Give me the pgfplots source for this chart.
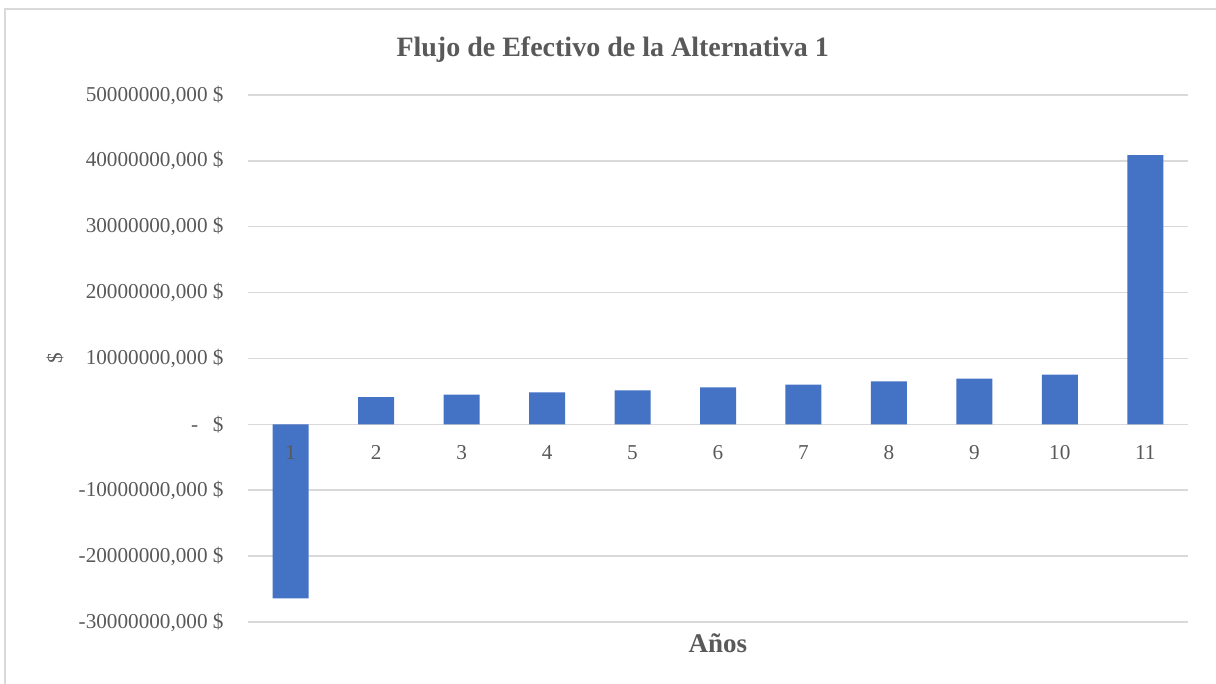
\documentclass[border=0pt]{standalone}
\usepackage{fontspec}
\setmainfont{Liberation Serif}
\usepackage{pgfplots}
\pgfplotsset{compat=1.18}
\definecolor{barblue}{HTML}{4472C4}
\definecolor{gridgray}{HTML}{D9D9D9}
\definecolor{txtgray}{HTML}{595959}
% grid below the bars, tick labels above them
\pgfplotsset{
    layers/labels over bars/.define layer set={
        axis background,axis grid,bars,axis ticks,axis lines,axis tick labels,main,axis descriptions,axis foreground
    }{},
}

\begin{document}
\begin{tikzpicture}
\begin{axis}[
    set layers=labels over bars,
    scale only axis,
    width=470pt, height=263.5pt,
    xmin=0.5, xmax=11.5,
    ymin=-30000000, ymax=50000000,
    axis line style={draw=none},
    major tick length=0pt,
    xtick={1,2,3,4,5,6,7,8,9,10,11},
    xticklabels={1,2,3,4,5,6,7,8,9,10,11},
    ytick={-30000000,-20000000,-10000000,0,10000000,20000000,30000000,40000000,50000000},
    yticklabels={{-30000000,000 \$},{-20000000,000 \$},{-10000000,000 \$},{-\hspace{0.7em}\$},
        {10000000,000 \$},{20000000,000 \$},{30000000,000 \$},{40000000,000 \$},{50000000,000 \$}},
    scaled y ticks=false,
    ticklabel style={font=\fontsize{10.6}{12}\selectfont, text=txtgray, inner sep=0pt},
    yticklabel style={anchor=east, xshift=-12pt},
    xticklabel style={anchor=center, yshift=84.5pt},
    title={Flujo de Efectivo de la Alternativa 1},
    title style={at={(rel axis cs:0.388,1)}, anchor=center, yshift=16.5pt,
        font=\bfseries\fontsize{14}{16}\selectfont, text=txtgray},
    xlabel={Años},
    every axis x label/.style={at={(rel axis cs:0.5,0)}, anchor=center, yshift=-10.5pt,
        font=\bfseries\fontsize{13.5}{15}\selectfont, text=txtgray},
    ylabel={\$},
    every axis y label/.style={at={(rel axis cs:0,0.5)}, rotate=90, anchor=center, yshift=96.5pt,
        font=\fontsize{10.6}{12}\selectfont, text=txtgray},
    ybar, bar width=18pt,
]
% horizontal gridlines every 10 000 000, under the bars
\begin{pgfonlayer}{axis background}
\draw[gridgray, line width=0.75pt]
    (rel axis cs:0,0) -- (rel axis cs:1,0)
    (rel axis cs:0,0.125) -- (rel axis cs:1,0.125)
    (rel axis cs:0,0.25) -- (rel axis cs:1,0.25)
    (rel axis cs:0,0.375) -- (rel axis cs:1,0.375)
    (rel axis cs:0,0.5) -- (rel axis cs:1,0.5)
    (rel axis cs:0,0.625) -- (rel axis cs:1,0.625)
    (rel axis cs:0,0.75) -- (rel axis cs:1,0.75)
    (rel axis cs:0,0.875) -- (rel axis cs:1,0.875)
    (rel axis cs:0,1) -- (rel axis cs:1,1);
\end{pgfonlayer}
\addplot[on layer=bars, fill=barblue, draw=none] coordinates {
    (1,-26400000)(2,4150000)(3,4510000)(4,4870000)(5,5170000)(6,5630000)
    (7,6040000)(8,6540000)(9,6950000)(10,7560000)(11,40870000)
};
\coordinate (bl) at (rel axis cs:0,0);
\coordinate (tr) at (rel axis cs:1,1);
\end{axis}
\draw[gridgray, line width=0.75pt] ([xshift=-121.5pt,yshift=-40pt]bl) |- ([xshift=20pt,yshift=43pt]tr);
\pgfresetboundingbox
\path[use as bounding box] ([xshift=-124pt,yshift=-31pt]bl) rectangle ([xshift=14pt,yshift=47.5pt]tr);
\end{tikzpicture}
\end{document}
